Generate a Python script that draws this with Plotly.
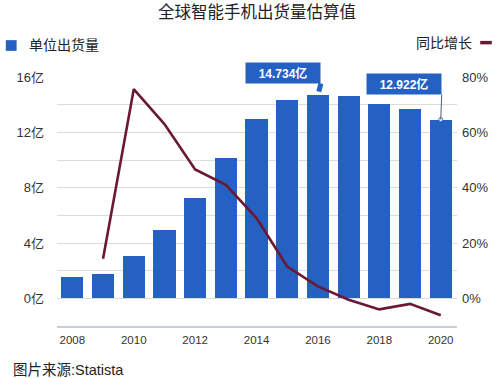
import plotly.graph_objects as go

years = list(range(2008, 2021))
shipments = [1.51, 1.73, 3.06, 4.95, 7.26, 10.17, 12.98, 14.33, 14.734, 14.61, 14.02, 13.68, 12.922]
growth_years = list(range(2009, 2021))
growth = [14.3, 75.6, 63.0, 46.6, 41.0, 29.0, 11.5, 4.3, -0.5, -4.0, -2.0, -6.1]

left_tickvals = [0, 2, 4, 6, 8, 10, 12, 14, 16]
left_ticktext = ["0亿", "", "4亿", "", "8亿", "", "12亿", "", "16亿"]
right_tickvals = [0, 20, 40, 60, 80]
right_ticktext = ["0%", "20%", "40%", "60%", "80%"]
x_tickvals = [2008, 2010, 2012, 2014, 2016, 2018, 2020]

title_text = "全球智能手机出货量估算值"
legend_bar = "单位出货量"
legend_line = "同比增长"
source_text = "图片来源:Statista"
callouts = [(2016, 14.734, "14.734亿"), (2020, 12.922, "12.922亿")]

BLUE = "#2461c2"
MAROON = "#6a1834"
FONT = "Liberation Sans, Arial, Noto Sans CJK SC, sans-serif"

fig = go.Figure()
fig.add_trace(go.Bar(x=years, y=shipments, marker=dict(color=BLUE, line=dict(width=0)),
                     width=0.72, name=legend_bar, yaxis="y", hoverinfo="skip"))
fig.add_trace(go.Scatter(x=growth_years, y=growth, mode="lines",
                         line=dict(color=MAROON, width=2.6), name=legend_line, yaxis="y2",
                         hoverinfo="skip"))
fig.add_trace(go.Scatter(x=[callouts[1][0]], y=[callouts[1][1]], mode="markers",
                         marker=dict(color="white", size=4, line=dict(color="#3a6fc4", width=1)),
                         yaxis="y", showlegend=False, hoverinfo="skip"))

fig.update_layout(
    width=500, height=378,
    margin=dict(l=57, r=38, t=77, b=52),
    paper_bgcolor="white", plot_bgcolor="white",
    showlegend=False,
    font=dict(family=FONT, color="#333333"),
    bargap=0,
    xaxis=dict(range=[2007.5, 2020.53], tickvals=x_tickvals, showgrid=False,
               showline=True, linecolor="#c6d0dc", linewidth=1.5,
               ticks="", tickfont=dict(size=11.5, color="#333"), ticklabelstandoff=2),
    yaxis=dict(range=[-2, 16], tickvals=left_tickvals, ticktext=left_ticktext,
               showgrid=True, gridcolor="#dcdcdc", gridwidth=1, zeroline=False,
               tickfont=dict(size=13, color="#333"), ticklabelstandoff=12),
    yaxis2=dict(range=[-10, 80], tickvals=right_tickvals, ticktext=right_ticktext,
                overlaying="y", side="right", showgrid=False, zeroline=False,
                tickfont=dict(size=13, color="#333"), ticklabelstandoff=4),
)

# title
fig.add_annotation(text=title_text, xref="paper", yref="paper", x=0.5, y=1,
                   xanchor="center", yanchor="middle", yshift=65,
                   showarrow=False, font=dict(size=16.5, color="#222"))
# legend (left)
fig.add_shape(type="rect", xref="paper", yref="paper", x0=-0.128, x1=-0.101,
              y0=1.105, y1=1.148, fillcolor=BLUE, line=dict(width=0))
fig.add_annotation(text=legend_bar, xref="paper", yref="paper", x=-0.075, y=1.127,
                   xanchor="left", yanchor="middle", showarrow=False,
                   font=dict(size=14, color="#222"))
# legend (right)
fig.add_annotation(text=legend_line, xref="paper", yref="paper", x=1.042, y=1.135,
                   xanchor="right", yanchor="middle", showarrow=False,
                   font=dict(size=14, color="#222"))
fig.add_shape(type="line", xref="paper", yref="paper", x0=1.058, x1=1.087,
              y0=1.138, y1=1.138, line=dict(color=MAROON, width=3.5))

# callouts
fig.add_annotation(x=callouts[0][0], y=callouts[0][1], xref="x", yref="y",
                   text="<b>" + callouts[0][2] + "</b>", showarrow=True,
                   arrowhead=0, arrowwidth=5, arrowcolor=BLUE, ax=3, ay=-11,
                   standoff=3, xanchor="right", yanchor="bottom",
                   bgcolor=BLUE, width=72, height=18,
                   font=dict(size=12, color="white"))
fig.add_annotation(x=callouts[1][0], y=callouts[1][1], xref="x", yref="y",
                   text="<b>" + callouts[1][2] + "</b>", showarrow=True,
                   arrowhead=0, arrowwidth=1, arrowcolor="#555e70", ax=1, ay=-25,
                   xanchor="right", yanchor="bottom",
                   bgcolor=BLUE, width=72, height=18,
                   font=dict(size=12, color="white"))
# source
fig.add_annotation(text=source_text, xref="paper", yref="paper", x=-0.115, y=0,
                   xanchor="left", yanchor="middle", yshift=-44, showarrow=False,
                   font=dict(size=14.5, color="#222"))

fig.write_html("out.html", config={"displayModeBar": False},
               post_script="document.body.style.margin='0';")
